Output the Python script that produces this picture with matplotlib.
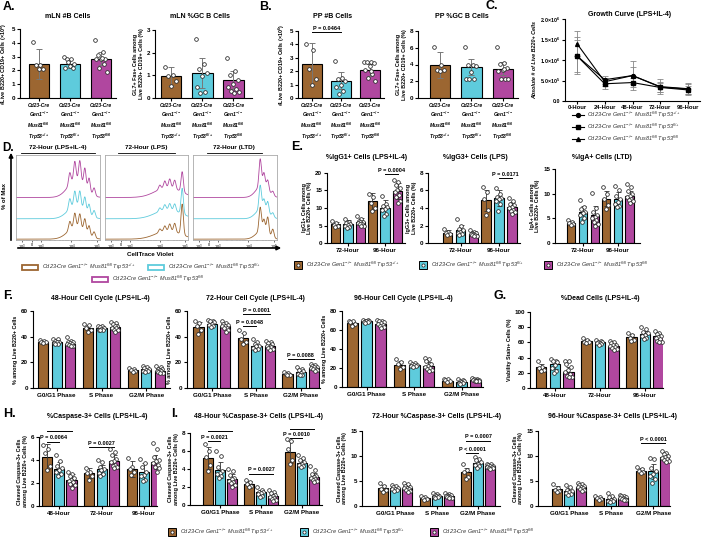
import numpy as np
import matplotlib.pyplot as plt
from matplotlib.lines import Line2D
from matplotlib.patches import Rectangle

plt.rcParams['font.family'] = ['Liberation Sans', 'DejaVu Sans']
plt.rcParams['mathtext.default'] = 'regular'
plt.rcParams['axes.linewidth'] = 0.8

W, H = 713, 539
fig = plt.figure(figsize=(W / 100, H / 100), dpi=100)

COLORS = ['#9c6631', '#5ecbdc', '#b0479f']
GENO = ['Trp53$^{+/+}$', 'Trp53$^{fl/+}$', 'Trp53$^{fl/fl}$']
LEG = ['Cd23-Cre Gen1$^{-/-}$ Mus81$^{fl/fl}$ ' + g for g in GENO]
XT3 = ['Cd23-Cre\nGen1$^{-/-}$\nMus81$^{fl/fl}$\n' + g for g in GENO]

# ---------------- data ----------------
# A / B : single level bars (brown, cyan, purple)
A1_mean = [2.45, 2.5, 2.85]
A1_sd = [1.1, 0.3, 0.45]
A1_pts = [[4.05, 2.4, 2.4, 2.1, 2.1],
          [2.95, 2.85, 2.8, 2.5, 2.3, 2.2, 2.2, 2.6],
          [4.2, 3.3, 3.1, 2.8, 2.8, 2.8, 2.5, 2.2, 1.9, 2.9]]
A2_mean = [0.95, 1.1, 0.8]
A2_sd = [0.4, 0.65, 0.4]
A2_pts = [[1.35, 1.0, 0.95, 0.75, 0.55],
          [2.6, 1.5, 1.3, 1.1, 0.95, 0.5, 0.25, 0.2],
          [1.75, 1.2, 1.0, 0.8, 0.6, 0.5, 0.4, 0.3, 0.25, 0.2]]
B1_mean = [2.55, 1.3, 2.1]
B1_sd = [1.55, 0.65, 0.45]
B1_pts = [[4.05, 3.6, 2.2, 1.4, 1.0],
          [2.75, 1.5, 1.4, 1.3, 1.0, 0.8, 0.5, 0.3],
          [2.7, 2.7, 2.7, 2.6, 2.4, 2.1, 1.8, 1.5, 1.3, 2.0]]
B2_mean = [3.9, 3.7, 3.5]
B2_sd = [1.55, 1.0, 0.75]
B2_pts = [[6.1, 3.9, 3.3, 3.3, 3.2],
          [6.1, 4.0, 4.0, 3.8, 3.1, 2.3, 2.3, 2.3],
          [6.1, 4.2, 4.1, 3.6, 3.3, 3.2, 2.3, 2.3, 2.3, 3.5]]

# C : growth curve
C_hours = ['0-Hour', '24-Hour', '48-Hour', '72-Hour', '96-Hour']
C_mean = [[1.1e6, 0.52e6, 0.62e6, 0.35e6, 0.30e6],
          [1.1e6, 0.42e6, 0.45e6, 0.33e6, 0.27e6],
          [1.4e6, 0.47e6, 0.62e6, 0.34e6, 0.29e6]]
C_sd = [[0.45e6, 0.10e6, 0.35e6, 0.18e6, 0.15e6],
        [0.40e6, 0.12e6, 0.12e6, 0.10e6, 0.10e6],
        [0.30e6, 0.10e6, 0.20e6, 0.12e6, 0.12e6]]

# D : CellTrace Violet histograms (peak positions / heights)
D_titles = ['72-Hour (LPS+IL-4)', '72-Hour (LPS)', '72-Hour (LTD)']
D_peak_x = [[0.64, 0.70, 0.76, 0.82, 0.87, 0.93],
            [0.66, 0.72, 0.78, 0.84, 0.93],
            [0.80, 0.845, 0.89, 0.95]]
D_peak_h = [[[0.10, 0.16, 0.16, 0.15, 0.11, 0.07],
             [0.12, 0.17, 0.18, 0.16, 0.12, 0.08],
             [0.14, 0.22, 0.24, 0.22, 0.16, 0.09]],
            [[0.04, 0.06, 0.08, 0.10, 0.36],
             [0.04, 0.06, 0.07, 0.08, 0.30],
             [0.05, 0.08, 0.10, 0.10, 0.24]],
            [[0.28, 0.14, 0.20, 0.10],
             [0.28, 0.12, 0.13, 0.05],
             [0.32, 0.16, 0.12, 0.05]]]
D_hump = [[(0.72, 0.10, 0.15), (0.72, 0.10, 0.16), (0.72, 0.10, 0.21)],
          [(0.76, 0.15, 0.10), (0.76, 0.15, 0.11), (0.76, 0.15, 0.12)],
          [(0.82, 0.07, 0.10), (0.82, 0.07, 0.12), (0.82, 0.07, 0.14)]]
D_base = [0.01, 0.25, 0.5]

# E
E_groups = ['72-Hour', '96-Hour']
E1_mean = [[5.3, 11.9], [5.5, 10.1], [5.9, 14.8]]
E1_sd = [[0.8, 2.5], [1.0, 2.2], [1.2, 2.3]]
E1_pts = [[[6.3, 5.7, 5.2, 4.8, 4.5], [14.0, 13.0, 11.5, 10.0, 9.0]],
          [[6.8, 6.0, 5.8, 5.5, 5.2, 5.0, 4.6, 4.3], [13.4, 11.0, 10.5, 10.2, 9.8, 9.5, 8.4, 7.8]],
          [[7.7, 6.8, 6.4, 6.1, 5.9, 5.7, 5.5, 5.3, 5.0, 4.8],
           [18.0, 17.3, 16.5, 15.8, 15.2, 14.6, 13.8, 13.0, 12.0, 11.5]]]
E2_mean = [[1.2, 4.9], [1.5, 5.1], [1.05, 4.1]]
E2_sd = [[0.3, 1.2], [0.6, 0.9], [0.3, 0.6]]
E2_pts = [[[1.6, 1.3, 1.2, 1.0, 0.9], [6.4, 5.8, 5.0, 3.8, 3.2]],
          [[2.7, 1.9, 1.6, 1.5, 1.3, 1.2, 1.0, 0.9], [6.3, 5.6, 5.3, 5.1, 5.0, 4.8, 4.4, 3.6]],
          [[1.5, 1.3, 1.2, 1.1, 1.0, 1.0, 0.9, 0.9, 0.8, 0.8],
           [5.1, 4.8, 4.5, 4.3, 4.1, 4.0, 3.8, 3.6, 3.5, 3.3]]]
E3_mean = [[4.1, 9.0], [6.2, 8.9], [5.7, 9.6]]
E3_sd = [[0.4, 1.5], [1.3, 1.4], [1.8, 1.0]]
E3_pts = [[[4.7, 4.3, 4.1, 3.9, 3.6], [11.3, 10.0, 9.0, 7.8, 6.9]],
          [[8.8, 7.2, 6.8, 6.3, 6.0, 5.6, 5.0, 4.2], [11.5, 10.7, 9.5, 8.9, 8.4, 8.0, 7.6, 7.3]],
          [[10.1, 7.0, 6.3, 5.7, 5.3, 5.0, 4.7, 4.3, 3.9, 3.5],
           [12.0, 11.3, 10.5, 9.9, 9.6, 9.3, 9.0, 8.8, 8.5, 8.2]]]

# F
F_groups = ['G0/G1 Phase', 'S Phase', 'G2/M Phase']
F1_mean = [[36, 46.5, 14], [36, 46.5, 14.5], [34.5, 47.5, 13.5]]
F1_sd = [[1, 2.5, 1], [1.5, 1.5, 1.5], [2, 2.5, 1.8]]
F1_pts = [[[37.5, 37, 36, 35.5, 35], [50, 49, 47, 45, 44], [15.5, 15, 14, 13, 12.5]],
          [[38.5, 38, 37, 36, 35.5, 35, 34.5, 34], [48.5, 48, 47.5, 47, 46, 45.5, 45, 45],
           [17, 16.5, 15.5, 15, 14, 13.5, 13, 12.5]],
          [[40, 37, 36, 35.5, 35, 34.5, 34, 33.5, 33, 32.5],
           [51.5, 50.5, 49.5, 48.5, 48, 47, 46.5, 45.5, 45, 44],
           [17, 16, 15, 14.5, 14, 13.5, 13, 12.5, 12, 11.5]]]
F2_mean = [[47.5, 39, 11], [50, 33, 12.5], [48, 33, 15.5]]
F2_sd = [[4, 4, 1], [2, 3, 2], [2, 2.5, 1.5]]
F2_pts = [[[52, 51, 48, 45, 42], [45, 43, 38, 36, 34], [12.5, 12, 11, 10.5, 10]],
          [[53, 52.5, 52, 51.5, 50, 49, 48.5, 47.5], [38, 36, 34, 33, 32.5, 31.5, 30.5, 30],
           [16, 15, 14, 13, 12, 11, 10.5, 10]],
          [[52, 51, 50, 49, 48.5, 48, 47, 46.5, 45, 44],
           [37, 36, 35, 34, 33, 33, 32, 31, 30.5, 30],
           [18.5, 18, 17, 16.5, 16, 15.5, 15, 14.5, 14, 13.5]]]
F3_mean = [[67.5, 23.5, 6.5], [69, 23, 5], [66, 22, 7]]
F3_sd = [[2.5, 4, 1.5], [1.5, 2, 1.5], [3, 4, 1]]
F3_pts = [[[70, 69.5, 68, 66, 64], [29, 26, 24, 21, 19], [8.5, 8, 7, 6, 5]],
          [[71, 70.5, 70, 69.5, 69, 68.5, 68, 67.5], [26, 25, 24, 23.5, 23, 22.5, 22, 21],
           [8, 7, 6.5, 6, 5, 4.5, 4, 3.5]],
          [[71, 70, 69, 68, 67, 66, 65, 64, 63, 62], [31, 29, 27, 24, 22, 21, 20, 19, 18, 17],
           [9, 8.5, 8, 7.5, 7, 7, 6.5, 6.5, 6, 6]]]

# G
G_groups = ['48-Hour', '72-Hour', '96-Hour']
G_mean = [[27, 61.5, 67], [31, 60, 71], [21, 55.5, 68]]
G_sd = [[5, 3, 4], [6, 2.5, 4], [6, 4, 5]]
G_pts = [[[35, 28, 26, 24, 22], [66, 63, 61, 60, 59], [73, 70, 66, 63, 62]],
         [[38, 36, 35, 34, 30, 26, 22, 20], [63, 62, 61, 60, 59.5, 59, 58, 57],
          [80, 77, 74, 72, 70, 68, 66, 64]],
         [[36, 35, 32, 27, 24, 21, 18, 16, 15, 14], [62, 61, 59, 57, 56, 55, 54, 52, 51, 50],
          [75, 73, 71, 69, 67, 66, 64, 62, 61, 60]]]

# H
H_mean = [[4.3, 2.85, 3.25], [3.25, 3.2, 3.0], [2.3, 3.9, 3.85]]
H_sd = [[1.1, 0.45, 0.7], [0.55, 0.4, 0.7], [0.45, 0.5, 0.6]]
H_pts = [[[5.3, 5.0, 4.6, 3.5, 3.1], [3.3, 3.0, 2.9, 2.6, 2.3], [4.2, 3.4, 3.2, 3.0, 2.7]],
         [[4.4, 3.9, 3.5, 3.3, 3.1, 3.0, 2.8, 2.6], [4.0, 3.8, 3.4, 3.2, 3.1, 2.9, 2.8, 2.6],
          [4.1, 3.7, 3.4, 3.0, 2.7, 2.6, 2.3, 2.2]],
         [[3.0, 2.8, 2.6, 2.4, 2.3, 2.2, 2.1, 1.9, 1.8, 1.6],
          [5.0, 4.7, 4.4, 4.1, 3.9, 3.8, 3.6, 3.5, 3.4, 3.3],
          [5.5, 5.0, 4.3, 4.0, 3.9, 3.7, 3.6, 3.4, 3.3, 3.0]]]

# I
I1_mean = [[5.25, 2.35, 5.9], [3.9, 1.4, 4.7], [2.9, 1.05, 3.1]]
I1_sd = [[1.2, 0.35, 1.2], [0.9, 0.3, 0.4], [0.6, 0.3, 0.5]]
I1_pts = [[[6.8, 6.0, 5.3, 4.5, 3.8], [2.8, 2.6, 2.3, 2.1, 2.0], [7.3, 7.1, 6.2, 5.0, 4.6]],
          [[6.0, 5.5, 4.2, 3.8, 3.6, 3.4, 3.2, 3.0], [2.0, 1.7, 1.5, 1.4, 1.3, 1.2, 1.0, 0.9],
           [5.6, 5.2, 5.0, 4.8, 4.6, 4.5, 4.3, 4.2]],
          [[4.0, 3.8, 3.3, 3.0, 2.9, 2.7, 2.6, 2.4, 2.2, 2.0],
           [1.7, 1.5, 1.3, 1.1, 1.0, 0.9, 0.8, 0.7, 0.6, 0.5],
           [4.3, 3.9, 3.5, 3.2, 3.1, 3.0, 2.9, 2.8, 2.7, 2.6]]]
I2_mean = [[3.6, 1.6, 6.8], [3.6, 2.1, 8.7], [3.7, 2.1, 8.0]]
I2_sd = [[0.6, 0.3, 0.9], [0.4, 0.3, 0.7], [0.6, 0.3, 0.3]]
I2_pts = [[[4.7, 4.0, 3.4, 3.2, 2.9], [2.0, 1.8, 1.6, 1.4, 1.3], [8.4, 7.2, 6.8, 5.9, 5.5]],
          [[4.3, 4.0, 3.8, 3.6, 3.5, 3.4, 3.2, 3.0], [2.6, 2.4, 2.3, 2.1, 2.0, 1.9, 1.8, 1.7],
           [9.8, 9.5, 9.2, 8.8, 8.5, 8.3, 8.0, 7.6]],
          [[4.7, 4.4, 4.1, 3.9, 3.7, 3.6, 3.4, 3.2, 3.0, 2.9],
           [2.7, 2.5, 2.3, 2.2, 2.1, 2.0, 1.9, 1.8, 1.7, 1.6],
           [8.5, 8.4, 8.3, 8.1, 8.0, 7.9, 7.8, 7.7, 7.6, 7.5]]]
I3_mean = [[3.4, 1.6, 7.1], [3.0, 1.5, 7.0], [3.9, 1.7, 9.9]]
I3_sd = [[0.6, 0.3, 0.5], [0.7, 0.5, 1.5], [0.5, 0.3, 0.7]]
I3_pts = [[[4.4, 3.7, 3.3, 3.0, 2.8], [2.0, 1.8, 1.6, 1.4, 1.3], [7.8, 7.4, 7.0, 6.8, 6.6]],
          [[4.2, 3.8, 3.3, 3.0, 2.8, 2.6, 2.4, 2.2], [2.6, 2.0, 1.8, 1.5, 1.3, 1.1, 1.0, 0.8],
           [9.7, 9.5, 7.6, 7.0, 6.5, 6.0, 5.5, 4.6]],
          [[4.7, 4.4, 4.2, 4.0, 3.9, 3.8, 3.6, 3.5, 3.3, 3.1],
           [2.3, 2.1, 2.0, 1.8, 1.7, 1.6, 1.5, 1.4, 1.3, 1.2],
           [11.0, 10.7, 10.4, 10.1, 9.9, 9.7, 9.5, 9.2, 9.0, 8.8]]]

# ---------------- helpers ----------------
TFS, TKFS, LFS, PFS = 5, 4.5, 3.9, 4


def px_axes(l, t, r, b):
    return fig.add_axes([l / W, 1 - b / H, (r - l) / W, (b - t) / H])


def ftext(x, y, s, **kw):
    kw.setdefault('ha', 'center')
    kw.setdefault('va', 'center')
    fig.text(x / W, 1 - y / H, s, **kw)


def style(ax, ylim, yticks, ylabel, xlim):
    ax.spines[['top', 'right']].set_visible(False)
    ax.set_xlim(*xlim)
    ax.set_ylim(*ylim)
    ax.set_yticks(yticks)
    ax.tick_params(axis='both', labelsize=TKFS, length=2.5, width=0.8, pad=1)
    ax.set_ylabel(ylabel, fontsize=LFS, fontweight='bold', labelpad=2, linespacing=1.1)
    for lab in ax.get_yticklabels() + ax.get_xticklabels():
        lab.set_fontweight('bold')


def jitter(n, w):
    k = np.arange(n)
    return ((k * 0.618) % 1 - 0.5) * w


def dots(ax, x, vals, w):
    vals = np.asarray(vals)
    ax.scatter(x + jitter(len(vals), w), vals, s=7, facecolor='white',
               edgecolor='#222222', lw=0.55, zorder=3, clip_on=False)


def single_bars(ax, means, sds, pts, width=0.66):
    x = np.arange(3)
    ax.bar(x, means, width, color=COLORS, edgecolor='k', lw=0.8, zorder=1)
    ax.errorbar(x, means, yerr=sds, fmt='none', ecolor='#777777', elinewidth=0.7,
                capsize=2.5, capthick=0.7, zorder=2)
    for i in range(3):
        dots(ax, i, pts[i], width * 0.6)
    ax.set_xticks(x, XT3)


def grouped_bars(ax, groups, means, sds, pts, step=0.29, width=0.23):
    x = np.arange(len(groups))
    for j in range(3):
        xs = x + (j - 1) * step
        ax.bar(xs, means[j], width, color=COLORS[j], edgecolor='k', lw=0.8, zorder=1)
        ax.errorbar(xs, means[j], yerr=sds[j], fmt='none', ecolor='#333333',
                    elinewidth=0.6, capsize=1.8, capthick=0.6, zorder=2)
        for g in range(len(groups)):
            dots(ax, xs[g], pts[j][g], width * 0.7)
    ax.set_xticks(x, groups)


def bracket(ax, g, j1, j2, y, txt, step=0.29):
    x1, x2 = g + (j1 - 1) * step, g + (j2 - 1) * step
    ax.plot([x1, x2], [y, y], color='k', lw=0.7, clip_on=False)
    ax.annotate(txt, ((x1 + x2) / 2, y), xytext=(0, 0.8), textcoords='offset points',
                ha='center', va='bottom', fontsize=PFS, fontweight='bold')


# overlay for legends / arrows / underlines
ov = fig.add_axes([0, 0, 1, 1], zorder=5)
ov.set_xlim(0, W)
ov.set_ylim(H, 0)
ov.axis('off')
ov.patch.set_alpha(0)

# panel letters
for lt, (x, y) in {'A.': (3, 7), 'B.': (259, 7), 'C.': (486, 6), 'D.': (2, 148),
                   'E.': (291, 147), 'F.': (3, 296), 'G.': (494, 296), 'H.': (3, 414),
                   'I.': (171, 414)}.items():
    ftext(x, y, lt, ha='left', fontsize=9 if lt != 'D.' else 8.5, fontweight='bold')

# ---------------- A / B ----------------
specs = [((20, 29, 116, 98), A1_mean, A1_sd, A1_pts, (0, 5), range(6),
          '#Live B220+ CD19+ Cells (×10$^6$)', (-0.61, 2.48), 'mLN #B Cells', 68, None),
         ((155, 30, 252, 98), A2_mean, A2_sd, A2_pts, (0, 3), range(4),
          'GL7+ Fas+ Cells among\nLive B220+ CD19+ Cells (%)', (-0.52, 2.6),
          'mLN %GC B Cells', 200, None),
         ((298, 31, 384, 98), B1_mean, B1_sd, B1_pts, (0, 5), range(6),
          '#Live B220+ CD19+ Cells (×10$^6$)', (-0.48, 2.48), 'PP #B Cells', 333,
          (0, 1, 4.9, 'P = 0.0464')),
         ((418, 31, 518, 98), B2_mean, B2_sd, B2_pts, (0, 8), range(0, 9, 2),
          'GL7+ Fas+ Cells among\nLive B220+ CD19+ Cells (%)', (-0.7, 2.48),
          'PP %GC B Cells', 462, None)]
for box, m, s, p, yl, yt, ylab, xl, title, tx, br in specs:
    ax = px_axes(*box)
    single_bars(ax, m, s, p)
    style(ax, yl, list(yt), ylab, xl)
    for lab in ax.get_xticklabels():
        lab.set_fontsize(3.6)
        lab.set_fontstyle('italic')
        lab.set_linespacing(1.25)
    ftext(tx, 17, title, fontsize=TFS, fontweight='bold')
    if br:
        x1, x2, y, txt = br
        ax.plot([x1, x2], [y, y], color='k', lw=0.7, clip_on=False)
        ax.annotate(txt, ((x1 + x2) / 2, y), xytext=(0, 0.8), textcoords='offset points',
                    ha='center', va='bottom', fontsize=PFS, fontweight='bold')

# ---------------- C ----------------
ax = px_axes(565, 19, 700, 101)
for j, mk in enumerate(['o', 's', '^']):
    ax.errorbar(np.arange(5), C_mean[j], yerr=C_sd[j], color='k', lw=0.8, marker=mk,
                ms=2.8, ecolor='#888888', elinewidth=0.6, capsize=2, capthick=0.6)
style(ax, (0, 2.0e6), [0, 0.5e6, 1.0e6, 1.5e6, 2.0e6],
      'Absolute # of Live B220+ Cells', (-0.43, 4.43))
ax.set_yticklabels(['0.0', '5.0×10$^5$', '1.0×10$^6$', '1.5×10$^6$', '2.0×10$^6$'],
                   fontweight='bold', fontsize=3.8)
ax.yaxis.label.set_fontstyle('italic')
ax.set_xticks(range(5), C_hours, fontweight='bold', fontsize=4.2)
ax.tick_params(axis='x', pad=0.5)
ftext(630, 15, 'Growth Curve (LPS+IL-4)', fontsize=TFS, fontweight='bold')
for j, mk in enumerate(['o', 's', '^']):
    y = 115 + 12 * j
    ov.add_line(Line2D([572, 584], [y, y], color='k', lw=0.8, clip_on=False))
    ov.add_line(Line2D([578], [y], color='k', marker=mk, ms=2.8))
    ov.text(587, y, LEG[j], fontsize=4, fontstyle='italic', va='center', color='#333333')

# ---------------- D ----------------
D_boxes = [(16, 155, 100, 240), (105, 155, 188, 240), (193, 155, 277, 240)]
D_tx = [(58, 21, 95), (146, 118, 175), (234, 207, 262)]
xx = np.linspace(0, 1, 500)
for k in range(3):
    ax = px_axes(*D_boxes[k])
    for j in range(3):
        c, sd, hh = D_hump[k][j]
        y = hh * np.exp(-(xx - c) ** 2 / (2 * sd ** 2))
        for pc, ph in zip(D_peak_x[k], D_peak_h[k][j]):
            y = y + ph * np.exp(-(xx - pc) ** 2 / (2 * 0.014 ** 2))
        ax.plot(xx, D_base[j] + y, color=COLORS[j], lw=0.6)
    ax.set_xlim(0, 1)
    ax.set_ylim(0, 1)
    ax.set_yticks([])
    ax.set_xticks([0.07, 0.19, 0.3, 0.66, 0.96],
                  ['-10$^3$', '0', '10$^3$', '10$^4$', '10$^5$'])
    ax.set_xticks([0.1, 0.13, 0.16, 0.22, 0.25, 0.4, 0.47, 0.52, 0.56, 0.59, 0.62,
                   0.76, 0.83, 0.87, 0.9, 0.93], minor=True)
    ax.tick_params(axis='x', labelsize=2.8, length=1.5, width=0.4, pad=0.5)
    ax.tick_params(axis='x', which='minor', length=0.9, width=0.3)
    for sp in ax.spines.values():
        sp.set_color('#aaaaaa')
        sp.set_linewidth(0.6)
    cx, u1, u2 = D_tx[k]
    ftext(cx, 148, D_titles[k], fontsize=4.6, fontweight='bold')
    ov.plot([u1, u2], [152.5, 152.5], color='k', lw=0.6)
ov.annotate('', xy=(11, 150), xytext=(11, 243),
            arrowprops=dict(arrowstyle='-|>', lw=1.2, color='k', mutation_scale=6))
ov.annotate('', xy=(284, 248), xytext=(15, 248),
            arrowprops=dict(arrowstyle='-|>', lw=1.2, color='k', mutation_scale=6))
ftext(5, 196, '% of Max', rotation=90, fontsize=4.3, fontweight='bold')
ftext(150, 255, 'CellTrace Violet', fontsize=4.5, fontweight='bold')
for j, (x, y) in enumerate([(22, 267), (148, 267), (92, 279)]):
    ov.add_patch(Rectangle((x, y - 2.5), 16, 5, fc='white', ec=COLORS[j], lw=1.3))
    ov.text(x + 20, y, LEG[j], fontsize=4, fontstyle='italic', va='center', color='#333333')

# ---------------- E ----------------
E_specs = [((327, 173, 405, 243), E1_mean, E1_sd, E1_pts, (0, 20), range(0, 21, 5),
            'IgG1+ Cells among\nLive B220+ Cells (%)', (-0.57, 1.54),
            '%IgG1+ Cells (LPS+IL-4)', 367, [(1, 1, 2, 19.6, 'P = 0.0004')]),
           ((428, 173, 520, 243), E2_mean, E2_sd, E2_pts, (0, 8), range(0, 9, 2),
            'IgG3+ Cells among\nLive B220+ Cells (%)', (-0.85, 1.55),
            '%IgG3+ Cells (LPS)', 475, [(1, 1, 2, 7.4, 'P = 0.0171')]),
           ((555, 169, 640, 243), E3_mean, E3_sd, E3_pts, (0, 15), range(0, 16, 5),
            'IgA+ Cells among\nLive B220+ Cells (%)', (-0.8, 1.63),
            '%IgA+ Cells (LTD)', 602, [])]
for box, m, s, p, yl, yt, ylab, xl, title, tx, brs in E_specs:
    ax = px_axes(*box)
    grouped_bars(ax, E_groups, m, s, p, step=0.34, width=0.25)
    style(ax, yl, list(yt), ylab, xl)
    ftext(tx, 157, title, fontsize=TFS, fontweight='bold')
    for b in brs:
        bracket(ax, *b, step=0.34)


def box_legend(y, xs):
    for j, x in enumerate(xs):
        ov.add_patch(Rectangle((x, y - 4), 8, 8, fc=COLORS[j], ec='k', lw=0.7))
        ov.scatter([x + 4], [y], s=5, facecolor='white', edgecolor='#222222', lw=0.5, zorder=6)
        ov.text(x + 12, y, LEG[j], fontsize=4, fontstyle='italic', va='center', color='#333333')


box_legend(265, [294, 419, 544])

# ---------------- F / G ----------------
FG_specs = [((33, 311, 170, 388), F_groups, F1_mean, F1_sd, F1_pts, (0, 60), range(0, 61, 20),
             '% among Live B220+ Cells', (-0.53, 2.53),
             '48-Hour Cell Cycle (LPS+IL-4)', 100, []),
            ((187, 311, 320, 388), F_groups, F2_mean, F2_sd, F2_pts, (0, 60), range(0, 61, 20),
             '% among Live B220+ Cells', (-0.56, 2.43),
             '72-Hour Cell Cycle (LPS+IL-4)', 255,
             [(1, 0, 1, 48, 'P = 0.0048'), (1, 0, 2, 57.5, 'P = 0.0001'),
              (2, 0, 2, 22.5, 'P = 0.0088')]),
            ((342, 311, 483, 387), F_groups, F3_mean, F3_sd, F3_pts, (0, 80), range(0, 81, 20),
             '% among Live B220+ Cells', (-0.52, 2.45),
             '96-Hour Cell Cycle (LPS+IL-4)', 403, []),
            ((530, 312, 663, 388), G_groups, G_mean, G_sd, G_pts, (0, 100), range(0, 101, 20),
             'Viability Stain+ Cells (%)', (-0.55, 2.4),
             '%Dead Cells (LPS+IL-4)', 600, [])]
for box, gr, m, s, p, yl, yt, ylab, xl, title, tx, brs in FG_specs:
    ax = px_axes(*box)
    grouped_bars(ax, gr, m, s, p, step=0.3, width=0.23)
    style(ax, yl, list(yt), ylab, xl)
    ftext(tx, 298, title, fontsize=TFS, fontweight='bold')
    for b in brs:
        bracket(ax, *b, step=0.3)

# ---------------- H / I ----------------
CASP = 'Cleaved Caspase-3+ Cells\namong Live B220+ Cells (%)'
HI_specs = [((39, 437, 157, 506), G_groups, H_mean, H_sd, H_pts, (0, 6), range(0, 7, 2),
             (-0.48, 2.31), '%Caspase-3+ Cells (LPS+IL-4)', 97,
             [(0, 0, 1, 5.6, 'P = 0.0064'), (0, 0, 2, 6.5, 'P < 0.0001'),
              (1, 0, 2, 5.1, 'P = 0.0027')]),
            ((190, 433, 322, 505), F_groups, I1_mean, I1_sd, I1_pts, (0, 8), range(0, 9, 2),
             (-0.73, 2.49), '48-Hour %Caspase-3+ Cells (LPS+IL-4)', 258,
             [(0, 0, 1, 7.1, 'P = 0.0021'), (0, 0, 2, 8.25, 'P < 0.0001'),
              (1, 0, 2, 3.5, 'P = 0.0027'), (2, 0, 1, 7.4, 'P = 0.0010'),
              (2, 0, 2, 8.4, 'P < 0.0001')]),
            ((362, 431, 500, 506), F_groups, I2_mean, I2_sd, I2_pts, (0, 15), range(0, 16, 5),
             (-0.8, 2.53), '72-Hour %Caspase-3+ Cells (LPS+IL-4)', 437,
             [(2, 0, 1, 10.6, 'P < 0.0001'), (2, 0, 2, 13.1, 'P = 0.0007')]),
            ((538, 431, 670, 506), F_groups, I3_mean, I3_sd, I3_pts, (0, 15), range(0, 16, 5),
             (-0.74, 2.4), '96-Hour %Caspase-3+ Cells (LPS+IL-4)', 613,
             [(2, 0, 2, 12.6, 'P < 0.0001')])]
for box, gr, m, s, p, yl, yt, xl, title, tx, brs in HI_specs:
    ax = px_axes(*box)
    grouped_bars(ax, gr, m, s, p, step=0.29, width=0.24)
    style(ax, yl, list(yt), CASP, xl)
    ftext(tx, 416, title, fontsize=TFS, fontweight='bold')
    for b in brs:
        bracket(ax, *b, step=0.29)

box_legend(532, [168, 300, 430])

fig.savefig('out.png', dpi=100)
